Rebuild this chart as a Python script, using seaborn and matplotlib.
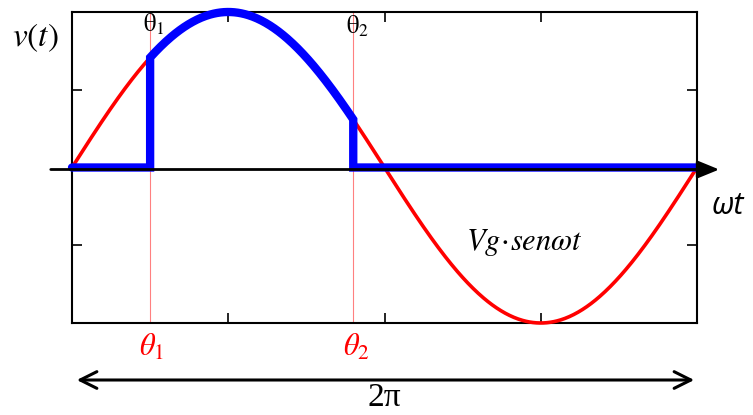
import numpy as np
import pandas as pd
import matplotlib
matplotlib.use("Agg")
import matplotlib.pyplot as plt
import seaborn as sns

# Source voltage and conduction window
Vg = 1.0
theta1 = np.pi / 4          # firing angle
theta2 = 0.9 * np.pi        # extinction angle
x_ticks = [np.pi / 2, np.pi, 3 * np.pi / 2]
y_ticks = [-0.5, 0.5]

wt = np.linspace(0, 2 * np.pi, 721)
vg = Vg * np.sin(wt)

# Output voltage: follows the source only between theta1 and theta2,
# with vertical edges at the switching instants
i1 = np.searchsorted(wt, theta1)
i2 = np.searchsorted(wt, theta2)
wt_out = np.concatenate([wt[:i1], [theta1, theta1], wt[i1:i2], [theta2, theta2], wt[i2:]])
v_out = np.concatenate([np.zeros(i1), [0.0, Vg * np.sin(theta1)], vg[i1:i2],
                        [Vg * np.sin(theta2), 0.0], np.zeros(len(wt) - i2)])

df_src = pd.DataFrame({"wt": wt, "v": vg})
df_out = pd.DataFrame({"wt": wt_out, "v": v_out})

sns.set_theme(style="white")
plt.rcParams["font.family"] = ["Liberation Serif", "DejaVu Serif"]
plt.rcParams["mathtext.fontset"] = "stix"

W, H = 753, 415
fig = plt.figure(figsize=(W / 100, H / 100), dpi=100)
L, R, T, B = 72, 697, 12, 323
ax = fig.add_axes([L / W, 1 - B / H, (R - L) / W, (B - T) / H])

sns.lineplot(data=df_src, x="wt", y="v", ax=ax, color="#ff0000", lw=2.6,
             sort=False, estimator=None, clip_on=False, zorder=3)

for th in (theta1, theta2):
    ax.axvline(th, color="#ff8080", lw=0.8, zorder=2, clip_on=False)

sns.lineplot(data=df_out, x="wt", y="v", ax=ax, color="#0000ff", lw=6,
             sort=False, estimator=None, clip_on=False, zorder=4,
             solid_joinstyle="miter")

ax.set_xlim(0, 2 * np.pi)
ax.set_ylim(-1, 1)
ax.set_xlabel("")
ax.set_ylabel("")
ax.set_xticks(x_ticks)
ax.set_yticks(y_ticks)
ax.set_xticklabels([])
ax.set_yticklabels([])
ax.tick_params(direction="in", length=7, width=1.2, color="black",
               top=True, bottom=True, left=True, right=True)
for s in ax.spines.values():
    s.set_visible(True)
    s.set_color("black")
    s.set_linewidth(1.5)

# horizontal time axis with arrow
ax.annotate("", xy=(722 / W, 1 - 169.5 / H), xytext=(48 / W, 1 - 169.5 / H),
            xycoords="figure fraction", textcoords="figure fraction",
            arrowprops=dict(arrowstyle="-|>,head_length=1.1,head_width=0.45",
                            color="black", lw=2), zorder=6)

# 2π span arrow
ax.annotate("", xy=(697 / W, 1 - 380 / H), xytext=(74 / W, 1 - 380 / H),
            xycoords="figure fraction", textcoords="figure fraction",
            arrowprops=dict(arrowstyle="<->,head_length=1.0,head_width=0.5",
                            color="black", lw=2.2))

def ftext(x, y, s, **kw):
    fig.text(x / W, 1 - y / H, s, **kw)

ftext(35, 38, r"$v(t)$", fontsize=24, ha="center", va="center", color="black")
ftext(154, 24, r"$\mathrm{\theta}_1$", fontsize=18, ha="center", va="center", color="black")
ftext(358, 26, r"$\mathrm{\theta}_2$", fontsize=18, ha="center", va="center", color="black")
ftext(152, 348, r"$\theta_1$", fontsize=22, ha="center", va="center", color="#ff0000")
ftext(356, 348, r"$\theta_2$", fontsize=22, ha="center", va="center", color="#ff0000")
ftext(728, 206, "ωt", fontsize=22, ha="center", va="center", color="black",
      family=["Open Sans", "DejaVu Sans"], style="italic")
ftext(524, 243, r"$Vg\!\cdot\! sen\omega t$", fontsize=22, ha="center", va="center",
      color="black")
ftext(384, 413, "2π", fontsize=24, ha="center", va="bottom", color="black")

fig.savefig("out.png", dpi=100)
